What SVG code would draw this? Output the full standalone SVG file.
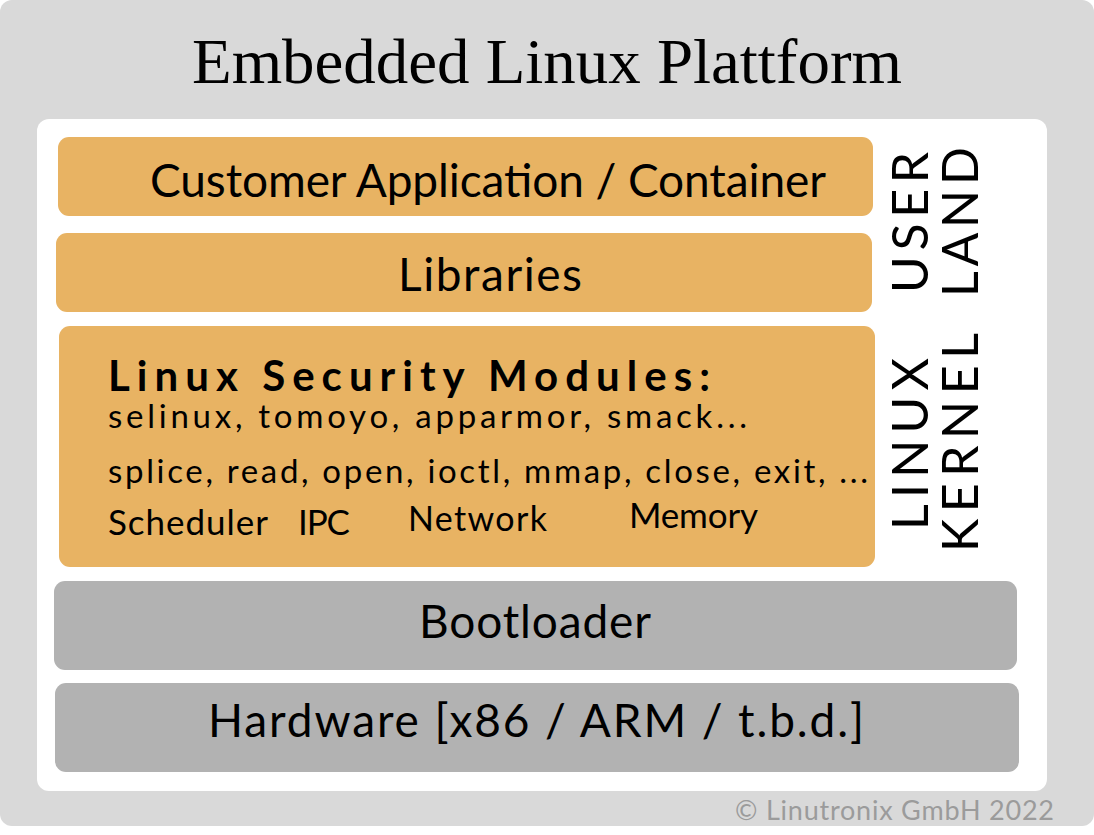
<svg xmlns="http://www.w3.org/2000/svg" width="1094" height="835" viewBox="0 0 1094 835">
  <style>
    .lbl { font-family: Lato, "Liberation Sans", "DejaVu Sans", sans-serif; fill: #000; }
    .big { font-size: 46px; }
    .mid { font-size: 33px; }
    .vert { font-size: 50px; }
    .orange { fill: #E8B363; }
    .grey { fill: #B2B2B2; }
  </style>
  <rect id="background" x="0" y="0" width="1094" height="826" rx="12" fill="#D9D9D9"/>
  <text id="title" x="192" y="83" textLength="710" lengthAdjust="spacingAndGlyphs" font-family="'Liberation Serif', 'DejaVu Serif', serif" font-size="63" fill="#000">Embedded Linux Plattform</text>
  <rect id="panel" x="37" y="119" width="1010" height="672" rx="12" fill="#FFFFFF"/>

  <g id="customer-app">
    <rect class="orange" x="58" y="137" width="815" height="79" rx="11"/>
    <text class="lbl big" x="150" y="197" textLength="676" lengthAdjust="spacing">Customer Application / Container</text>
  </g>
  <g id="libraries">
    <rect class="orange" x="56" y="233" width="816" height="79" rx="11"/>
    <text class="lbl big" x="398" y="291" textLength="184" lengthAdjust="spacing">Libraries</text>
  </g>
  <g id="kernel">
    <rect class="orange" x="59" y="326" width="816" height="241" rx="11"/>
    <text class="lbl" x="108" y="391" font-size="42" font-weight="bold" textLength="602" lengthAdjust="spacing">Linux Security Modules:</text>
    <text class="lbl mid" x="108" y="428" textLength="639" lengthAdjust="spacing">selinux, tomoyo, apparmor, smack...</text>
    <text class="lbl mid" x="108" y="483" textLength="760" lengthAdjust="spacing">splice, read, open, ioctl, mmap, close, exit, ...</text>
    <text class="lbl" x="108" y="535" font-size="35" textLength="160" lengthAdjust="spacing">Scheduler</text>
    <text class="lbl" x="298" y="535" font-size="35" textLength="52" lengthAdjust="spacing">IPC</text>
    <text class="lbl" x="408" y="531" font-size="34" textLength="139" lengthAdjust="spacing">Network</text>
    <text class="lbl" x="629" y="528" font-size="35" textLength="129" lengthAdjust="spacing">Memory</text>
  </g>
  <g id="bootloader">
    <rect class="grey" x="54" y="581" width="963" height="89" rx="11"/>
    <text class="lbl big" x="419" y="638" textLength="232" lengthAdjust="spacing">Bootloader</text>
  </g>
  <g id="hardware">
    <rect class="grey" x="55" y="683" width="964" height="89" rx="11"/>
    <text class="lbl big" x="208" y="737" textLength="656" lengthAdjust="spacing">Hardware [x86 / ARM / t.b.d.]</text>
  </g>

  <g id="side-labels">
    <text class="lbl vert" transform="translate(928,293) rotate(-90)" x="0" y="0" textLength="141" lengthAdjust="spacing">USER</text>
    <text class="lbl vert" transform="translate(978,297) rotate(-90)" x="0" y="0" textLength="150" lengthAdjust="spacing">LAND</text>
    <text class="lbl vert" transform="translate(928,530) rotate(-90)" x="0" y="0" textLength="172" lengthAdjust="spacing">LINUX</text>
    <text class="lbl vert" transform="translate(978,552) rotate(-90)" x="0" y="0" textLength="219" lengthAdjust="spacing">KERNEL</text>
  </g>

  <g id="connectors"/>

  <text id="copyright" x="735" y="820" textLength="319" lengthAdjust="spacing" font-family="Lato, 'Liberation Sans', sans-serif" font-size="27" fill="#9B9B9B">© Linutronix GmbH 2022</text>
</svg>
